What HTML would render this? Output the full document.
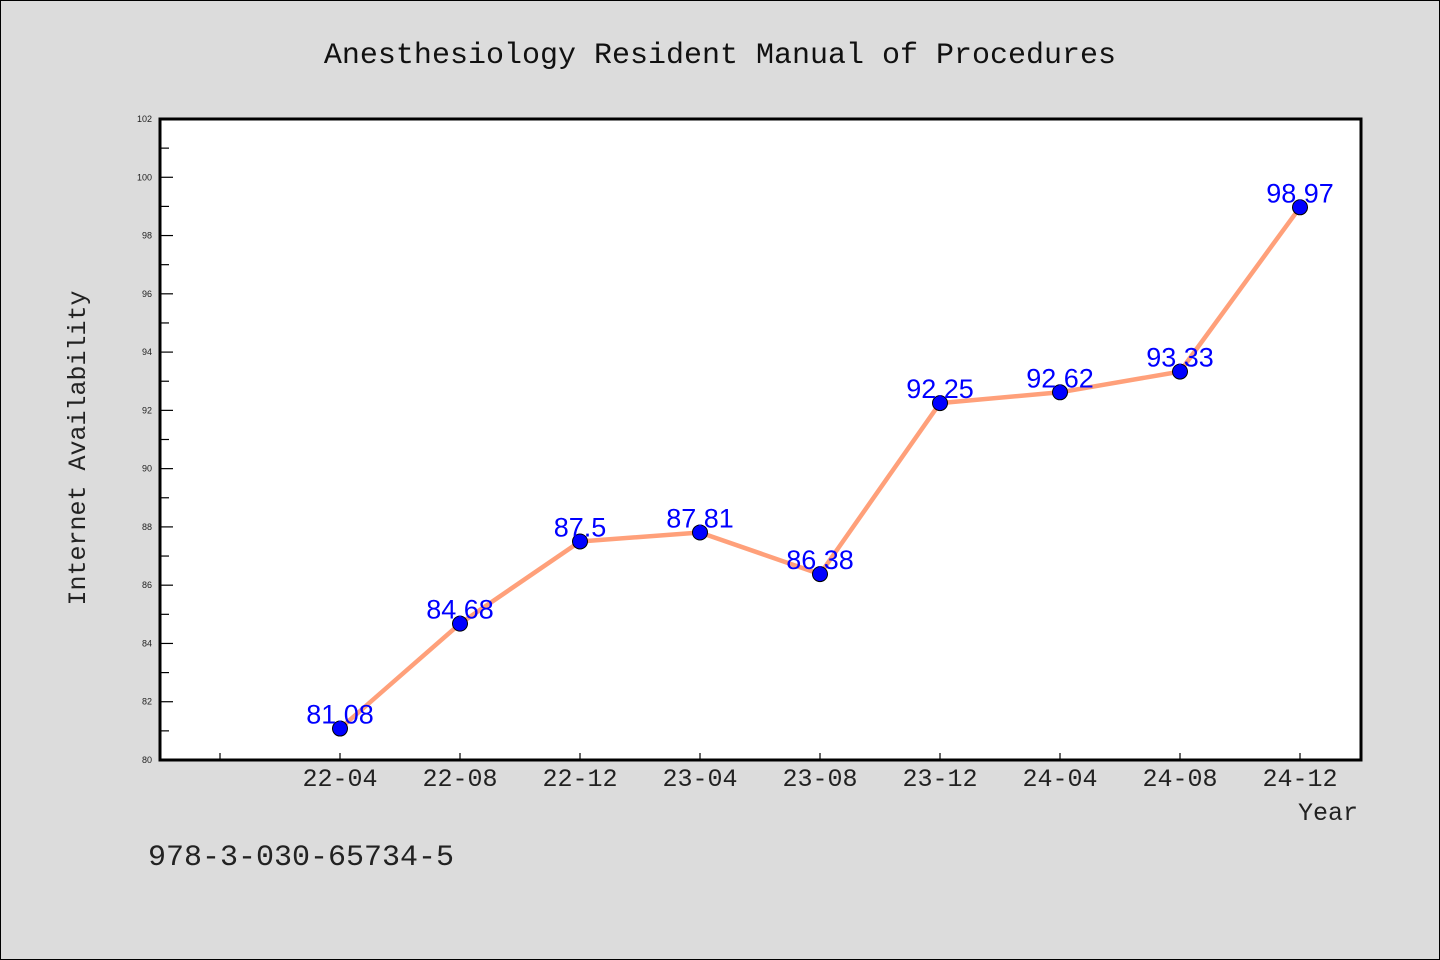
<!DOCTYPE html>
<html><head><meta charset="utf-8"><style>
body{margin:0;background:#dcdcdc;}
svg{display:block}
</style></head><body>
<svg id="chart" width="1440" height="960" xmlns="http://www.w3.org/2000/svg">
<rect x="0.5" y="0.5" width="1439" height="959" fill="#dcdcdc" stroke="#000"/>
<text x="720" y="63" text-anchor="middle" font-family="Liberation Mono, monospace" font-size="30" fill="#111">Anesthesiology Resident Manual of Procedures</text>
<rect x="160" y="119" width="1201" height="641" fill="#fff"/>
<g id="yaxis"></g><g id="xaxis"></g><g id="series"></g>
<rect x="160" y="119" width="1201" height="641" fill="none" stroke="#000" stroke-width="3"/>
<text x="85" y="448" transform="rotate(-90 85 448)" text-anchor="middle" font-family="Liberation Mono, monospace" font-size="25" fill="#222">Internet Availability</text>
<text x="1358" y="820" text-anchor="end" font-family="Liberation Mono, monospace" font-size="25" fill="#222">Year</text>
<text x="148" y="865" font-family="Liberation Mono, monospace" font-size="30" fill="#222">978-3-030-65734-5</text>
</svg>
<script>
const categories=["22-04","22-08","22-12","23-04","23-08","23-12","24-04","24-08","24-12"];
const values=[81.08,84.68,87.5,87.81,86.38,92.25,92.62,93.33,98.97];
const labels=["81.08","84.68","87.5","87.81","86.38","92.25","92.62","93.33","98.97"];
const yTicks=[80,82,84,86,88,90,92,94,96,98,100,102];
const NS="http://www.w3.org/2000/svg";
const yMin=80,yMax=102,plotTop=119,plotBot=760;
const y=v=>plotBot-(v-yMin)/(yMax-yMin)*(plotBot-plotTop);
const x=i=>340+i*120;
function mk(t,a,p){const e=document.createElementNS(NS,t);for(const k in a)e.setAttribute(k,a[k]);p.appendChild(e);return e;}
const ya=document.getElementById('yaxis'),xa=document.getElementById('xaxis'),se=document.getElementById('series');
for(let v=yMin;v<=yMax;v++){
 const major=(v%2===0);
 const l=mk('line',{x1:160,x2:major?173:169,y1:y(v),y2:y(v),stroke:'#000','stroke-width':1.2},ya);
 
 
}
yTicks.forEach(v=>{
 const t=mk('text',{x:152,y:y(v)+3,'text-anchor':'end','font-family':'Liberation Sans, sans-serif','font-size':9,fill:'#222'},ya);
 t.textContent=v;
 
 
});
for(let i=-1;i<categories.length;i++){
 const l=mk('line',{x1:x(i),x2:x(i),y1:760,y2:753,stroke:'#000','stroke-width':1.2},xa);
 
 
}
categories.forEach((c,i)=>{
 const t=mk('text',{x:x(i),y:786,'text-anchor':'middle','font-family':'Liberation Mono, monospace','font-size':25,fill:'#222'},xa);
 t.textContent=c;
 
 
});
const pl=mk('polyline',{points:values.map((v,i)=>x(i)+','+y(v)).join(' '),fill:'none',stroke:'#ffa07a','stroke-width':4.5,'stroke-linejoin':'round'},se);


values.forEach((v,i)=>{
 const c=mk('circle',{cx:x(i),cy:y(v),r:7.5,fill:'#0000ff',stroke:'#000','stroke-width':1},se);
 
 
});
values.forEach((v,i)=>{
 const t=mk('text',{x:x(i),y:y(v)-5,'text-anchor':'middle','font-family':'Liberation Sans, sans-serif','font-size':27,fill:'#0000ff'},se);
 t.textContent=labels[i];
 
 
});
</script>
</body></html>
